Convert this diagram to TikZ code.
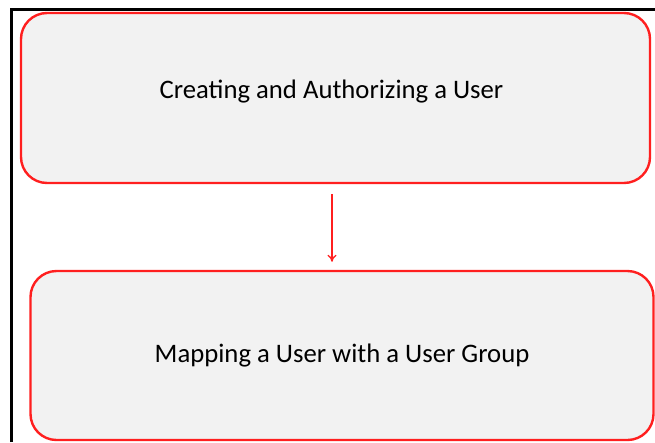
\documentclass[tikz,border=0pt]{standalone}
\usepackage{fontspec}
\setmainfont{Carlito}
\usetikzlibrary{arrows.meta, positioning}
\definecolor{boxfill}{HTML}{F2F2F2}
\definecolor{boxred}{HTML}{FF1F1F}

\begin{document}
\begin{tikzpicture}[
	x=1pt, y=-1pt,
	box/.style={draw=boxred, line width=2.4pt, rounded corners=26pt, fill=boxfill, align=center, font=\fontsize{26.7}{30}\selectfont},
	arrow/.style={-{To[length=7pt, width=9pt]}, draw=boxred, line width=1.3pt}
	]
	\useasboundingbox (0,0) rectangle (655,442);
	
	% --- frame ---
	\draw[line width=3.2pt] (11.5,442) -- (11.5,9.5) -- (655,9.5);
	
	% --- boxes ---
	\node[box, minimum width=629pt, minimum height=170pt] (create) at (335.5,98) {\raisebox{17pt}{Creating and Authorizing a User}\hspace*{8pt}};
	\node[box, minimum width=623pt, minimum height=169pt] (map) at (342,355.5) {Mapping a User with a User Group};
	
	% --- arrow ---
	\coordinate (arrx) at (332,0);
	\draw[arrow, shorten <=10pt, shorten >=8pt] (create.south -| arrx) -- (map.north -| arrx);
\end{tikzpicture}
\end{document}
